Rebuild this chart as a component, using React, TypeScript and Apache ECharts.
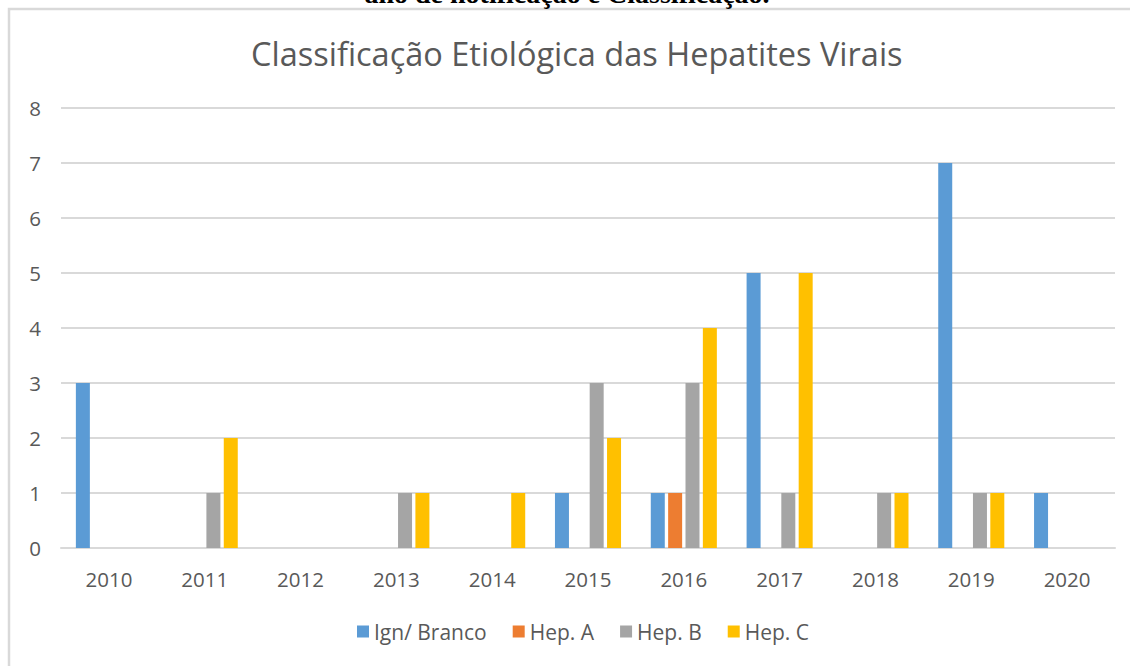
import React, { useEffect, useRef } from "react";
import * as echarts from "echarts";

const years = ["2010", "2011", "2012", "2013", "2014", "2015", "2016", "2017", "2018", "2019", "2020"];
const ignBranco = [3, 0, 0, 0, 0, 1, 1, 5, 0, 7, 1];
const hepA = [0, 0, 0, 0, 0, 0, 1, 0, 0, 0, 0];
const hepB = [0, 1, 0, 1, 0, 3, 3, 1, 1, 1, 0];
const hepC = [0, 2, 0, 1, 1, 2, 4, 5, 1, 1, 0];
const seriesNames = ["Ign/ Branco", "Hep. A", "Hep. B", "Hep. C"];
const colors = ["#5B9BD5", "#ED7D31", "#A5A5A5", "#FFC000"];
const titleText = "Classificação Etiológica das Hepatites Virais";
const captionText = "ano de notificação e Classificação.";

export default function App() {
  const ref = useRef<HTMLDivElement>(null);
  useEffect(() => {
    document.body.style.margin = "0";
    if (!ref.current) return;
    const chart = echarts.init(ref.current, null, { renderer: "svg" });
    const font = "'Open Sans', sans-serif";
    const all = [ignBranco, hepA, hepB, hepC];
    chart.setOption({
      animation: false,
      backgroundColor: "#ffffff",
      title: {
        text: titleText,
        left: 246,
        top: 32,
        textStyle: { fontFamily: font, fontSize: 32.5, fontWeight: "normal", color: "#595959" },
      },
      graphic: [
        {
          type: "rect",
          shape: { x: 9, y: 9, width: 1300, height: 800 },
          style: { fill: "none", stroke: "#d9d9d9", lineWidth: 2.5 },
          silent: true,
        },
        {
          type: "text",
          x: 567,
          y: 7,
          style: {
            text: captionText,
            font: "bold 28px 'Liberation Serif', serif",
            fill: "#000000",
            textAlign: "center",
            textVerticalAlign: "bottom",
          },
        },
      ],
      legend: {
        data: seriesNames,
        bottom: 19,
        left: 352,
        icon: "rect",
        itemWidth: 12,
        itemHeight: 12,
        itemGap: 26,
        textStyle: { fontFamily: font, fontSize: 21, color: "#595959" },
      },
      grid: { left: 61, right: 15, top: 108, bottom: 118, containLabel: false },
      xAxis: {
        type: "category",
        data: years,
        axisLine: { show: true, lineStyle: { color: "#d9d9d9", width: 2 } },
        axisTick: { show: false },
        axisLabel: { fontFamily: font, fontSize: 20.5, color: "#595959", margin: 20 },
      },
      yAxis: {
        type: "value",
        min: 0,
        max: 8,
        interval: 1,
        axisLine: { show: false },
        axisTick: { show: false },
        splitLine: { lineStyle: { color: "#d9d9d9", width: 2 } },
        axisLabel: { fontFamily: font, fontSize: 20.5, color: "#595959", margin: 20 },
      },
      series: seriesNames.map((name, i) => ({
        name,
        type: "bar",
        data: all[i],
        barWidth: 14,
        barGap: "24%",
        itemStyle: { color: colors[i] },
      })),
    });
    return () => chart.dispose();
  }, []);
  return <div ref={ref} style={{ width: 1130, height: 666 }} />;
}
